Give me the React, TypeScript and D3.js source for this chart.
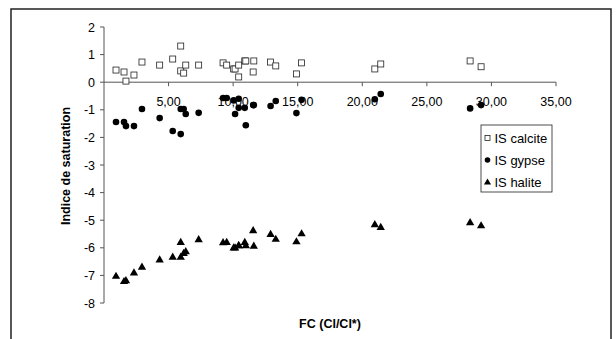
import React from "react";
import * as d3 from "d3";

// FC (Cl/Cl*) for each sample
const fc = [
  0.93, 1.55, 1.7, 2.32, 2.94, 4.31, 5.32, 5.94, 5.94, 6.17, 6.33, 7.33, 9.22, 9.5, 10.04,
  10.15, 10.43, 10.43, 10.9, 10.98, 11.55, 11.6, 12.9, 13.3, 14.9, 15.3, 20.97, 21.43, 28.35, 29.2,
];
const isCalcite = [
  0.44, 0.37, 0.04, 0.26, 0.73, 0.62, 0.84, 1.31, 0.41, 0.33, 0.62, 0.62, 0.7, 0.62, 0.48,
  0.48, 0.62, 0.19, 0.77, 0.77, 0.37, 0.77, 0.73, 0.59, 0.3, 0.7, 0.48, 0.66, 0.77, 0.56,
];
const isGypse = [
  -1.44, -1.44, -1.59, -1.59, -0.97, -1.3, -1.77, -0.97, -1.88, -0.97, -1.15, -1.11, -0.57, -0.57, -0.66,
  -1.15, -0.6, -0.93, -0.93, -1.56, -0.83, -0.83, -0.86, -0.68, -1.12, -0.64, -0.62, -0.43, -0.95, -0.83,
];
const isHalite = [
  -7.02, -7.21, -7.18, -6.9, -6.69, -6.43, -6.33, -5.79, -6.33, -6.19, -6.13, -5.69, -5.8, -5.79, -5.99,
  -5.99, -5.91, -5.91, -5.79, -5.91, -5.37, -5.93, -5.5, -5.68, -5.77, -5.48, -5.15, -5.25, -5.08, -5.19,
];
const xTicks = [5, 10, 15, 20, 25, 30, 35];
const yTicks = [2, 1, 0, -1, -2, -3, -4, -5, -6, -7, -8];
const legendLabels = ["IS calcite", "IS gypse", "IS halite"];

const W = 616;
const H = 339;
const font = "Arial, 'Liberation Sans', sans-serif";

const x = d3.scaleLinear().domain([0, 35]).range([104, 556]);
const y = d3.scaleLinear().domain([-8, 2]).range([303, 27]);
const fmt = (v: number) => d3.format(".2f")(v).replace(".", ",");

const triangle = d3.symbol().type(d3.symbolTriangle).size(30)();

const Marker = ({ kind, cx, cy }: { kind: number; cx: number; cy: number }) => {
  if (kind === 0)
    return <rect x={cx - 3} y={cy - 3} width={6} height={6} fill="white" stroke="#222" strokeWidth={0.8} />;
  if (kind === 1) return <circle cx={cx} cy={cy} r={3.3} fill="black" />;
  return <path d={triangle!} transform={`translate(${cx},${cy + 0.5})`} fill="black" />;
};

export default function App() {
  const series = [isCalcite, isGypse, isHalite];
  return (
    <svg width={W} height={H} style={{ position: "absolute", left: 0, top: 0, background: "white" }}>
      <rect x={11} y={9} width={600} height={345} fill="white" stroke="#222" strokeWidth={1.5} />

      {/* y axis */}
      <line x1={x(0)} x2={x(0)} y1={y(2)} y2={y(-8)} stroke="#555" />
      {yTicks.map((t) => (
        <g key={t}>
          <line x1={x(0) - 4} x2={x(0)} y1={y(t)} y2={y(t)} stroke="#555" />
          <text x={x(0) - 9} y={y(t)} dy="0.36em" textAnchor="end" fontFamily={font} fontSize={12.5}>
            {t}
          </text>
        </g>
      ))}

      {/* x axis at y=0 */}
      <line x1={x(0)} x2={x(35)} y1={y(0)} y2={y(0)} stroke="#555" />
      {xTicks.map((t) => (
        <g key={t}>
          <line x1={x(t)} x2={x(t)} y1={y(0)} y2={y(0) + 4} stroke="#555" />
          <text x={x(t)} y={y(0) + 24} textAnchor="middle" fontFamily={font} fontSize={12.5}>
            {fmt(t)}
          </text>
        </g>
      ))}

      <text
        transform={`translate(70,166) rotate(-90)`}
        textAnchor="middle"
        fontFamily={font}
        fontSize={12.5}
        fontWeight="bold"
      >
        Indice de saturation
      </text>
      <text x={330} y={328} textAnchor="middle" fontFamily={font} fontSize={12.5} fontWeight="bold">
        FC (Cl/Cl*)
      </text>

      {series.map((vals, k) =>
        vals.map((v, i) => <Marker key={`${k}-${i}`} kind={k} cx={x(fc[i])} cy={y(v)} />)
      )}

      {/* legend */}
      <rect x={481} y={125} width={71} height={67} fill="white" stroke="#222" strokeWidth={0.8} />
      {legendLabels.map((l, i) => (
        <g key={l} transform={`translate(0,${138 + i * 22})`}>
          {i === 0 ? (
            <rect x={485} y={-2.5} width={5} height={5} fill="white" stroke="#222" strokeWidth={0.8} />
          ) : i === 1 ? (
            <circle cx={487.5} cy={0} r={2.8} fill="black" />
          ) : (
            <path d={d3.symbol().type(d3.symbolTriangle).size(22)()!} transform="translate(487.5,0.5)" fill="black" />
          )}
          <text x={494.5} y={0} dy="0.36em" fontFamily={font} fontSize={13}>
            {l}
          </text>
        </g>
      ))}
    </svg>
  );
}
